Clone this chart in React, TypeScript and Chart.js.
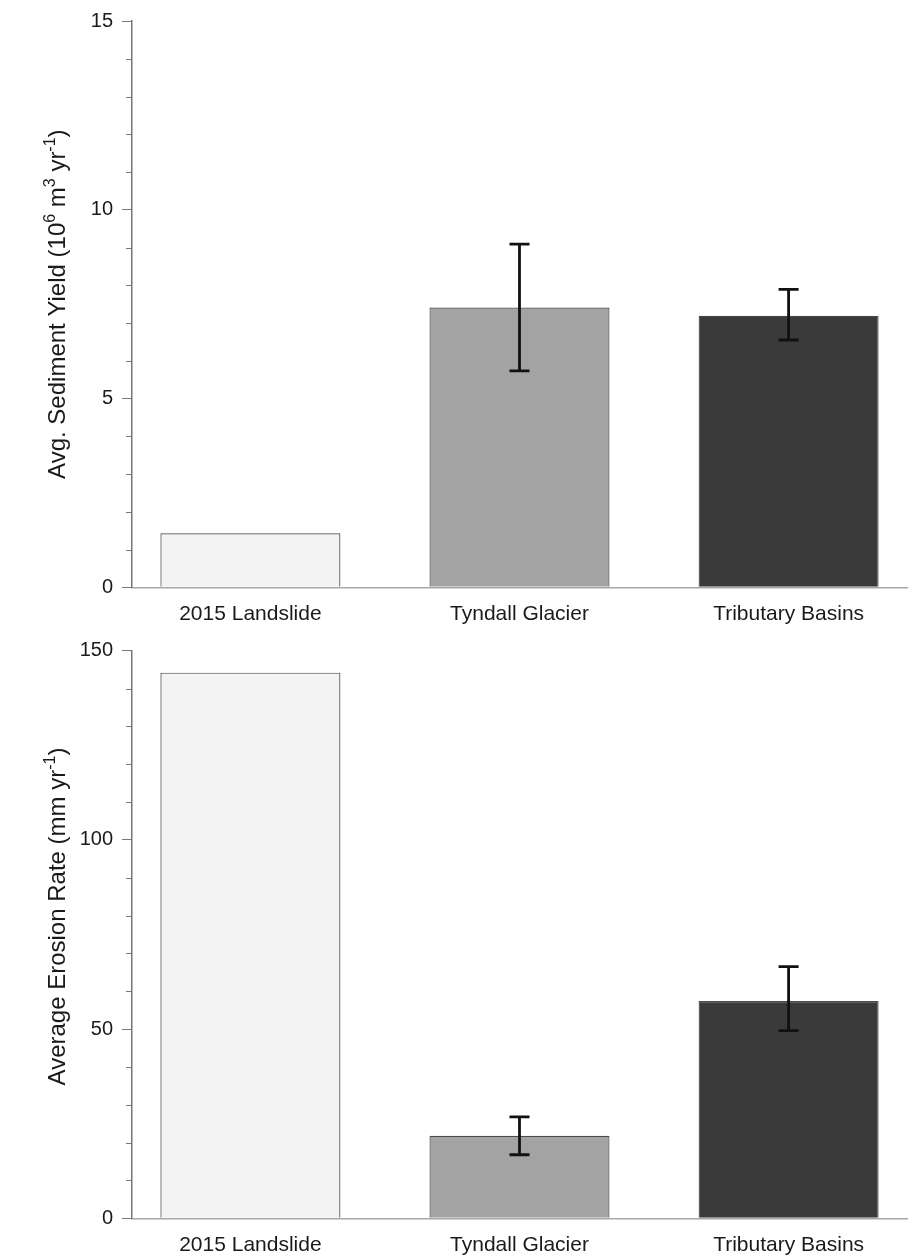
import React, { useEffect, useRef } from 'react';
import { Chart, registerables } from 'chart.js';

Chart.register(...registerables);

// ---------- data ----------
const categories = ['2015 Landslide', 'Tyndall Glacier', 'Tributary Basins'];
const categoryPositions = [0, 1, 2];

const yieldValues = [1.43, 7.41, 7.19];
const yieldErrLow: (number | null)[] = [null, 5.73, 6.55];
const yieldErrHigh: (number | null)[] = [null, 9.09, 7.89];

const erosionValues = [144.2, 21.8, 57.4];
const erosionErrLow: (number | null)[] = [null, 16.8, 49.6];
const erosionErrHigh: (number | null)[] = [null, 26.8, 66.5];

const barColors = ['#f3f3f3', '#a3a3a3', '#3a3a3a'];

// title pieces: [text, isSuperscript]
const yieldTitle: [string, boolean][] = [
  ['Avg. Sediment Yield (10', false],
  ['6', true],
  [' m', false],
  ['3', true],
  [' yr', false],
  ['-1', true],
  [')', false],
];
const erosionTitle: [string, boolean][] = [
  ['Average Erosion Rate (mm yr', false],
  ['-1', true],
  [')', false],
];

const FONT = '"Liberation Sans", Arial, Helvetica, sans-serif';

type PanelProps = {
  values: number[];
  errLow: (number | null)[];
  errHigh: (number | null)[];
  yMax: number;
  yStep: number;
  yMajor: number;
  title: [string, boolean][];
  titleSize: number;
  titleX: number;
  titleShift: number;
  top: number;
  padTop: number;
  xAxisHeight: number;
};

const W = 912;
const H = 628;

function Panel(p: PanelProps) {
  const ref = useRef<HTMLCanvasElement | null>(null);
  useEffect(() => {
    if (!ref.current) return;
    const errorBars = {
      id: 'errorBars',
      afterDatasetsDraw(chart: any) {
        const meta = chart.getDatasetMeta(0);
        const ys = chart.scales.y;
        const ctx = chart.ctx;
        ctx.save();
        ctx.strokeStyle = '#111';
        ctx.lineWidth = 2.8;
        meta.data.forEach((bar: any, i: number) => {
          const lo = p.errLow[i];
          const hi = p.errHigh[i];
          if (lo == null || hi == null) return;
          const x = bar.x;
          const y1 = ys.getPixelForValue(hi);
          const y2 = ys.getPixelForValue(lo);
          ctx.beginPath();
          ctx.moveTo(x, y1);
          ctx.lineTo(x, y2);
          ctx.moveTo(x - 10, y1);
          ctx.lineTo(x + 10, y1);
          ctx.moveTo(x - 10, y2);
          ctx.lineTo(x + 10, y2);
          ctx.stroke();
        });
        ctx.restore();
      },
    };
    const minorTicks = {
      id: 'minorTicks',
      afterDraw(chart: any) {
        const ys = chart.scales.y;
        const ctx = chart.ctx;
        const x0 = chart.chartArea.left;
        ctx.save();
        ctx.strokeStyle = '#777';
        ctx.lineWidth = 1;
        ys.ticks.forEach((t: any) => {
          if (Math.round(t.value) % p.yMajor === 0) return;
          const y = Math.round(ys.getPixelForValue(t.value)) + 0.5;
          ctx.beginPath();
          ctx.moveTo(x0 - 6, y);
          ctx.lineTo(x0, y);
          ctx.stroke();
        });
        ctx.restore();
      },
    };
    const richTitle = {
      id: 'richTitle',
      afterDraw(chart: any) {
        const ctx = chart.ctx;
        const area = chart.chartArea;
        const main = `${p.titleSize}px ${FONT}`;
        const supSize = Math.round(p.titleSize * 0.65);
        const sup = `${supSize}px ${FONT}`;
        ctx.save();
        let total = 0;
        const widths = p.title.map(([t, s]) => {
          ctx.font = s ? sup : main;
          const w = ctx.measureText(t).width;
          total += w;
          return w;
        });
        const cy = (area.top + area.bottom) / 2 + p.titleShift;
        ctx.translate(p.titleX, cy);
        ctx.rotate(-Math.PI / 2);
        ctx.fillStyle = '#1a1a1a';
        ctx.textBaseline = 'alphabetic';
        ctx.textAlign = 'left';
        let x = -total / 2;
        const baseline = p.titleSize * 0.36;
        p.title.forEach(([t, s], i) => {
          ctx.font = s ? sup : main;
          ctx.fillText(t, x, s ? baseline - p.titleSize * 0.42 : baseline);
          x += widths[i];
        });
        ctx.restore();
      },
    };
    const chart = new Chart(ref.current, {
      type: 'bar',
      data: {
        datasets: [
          {
            data: categoryPositions.map((x, i) => ({ x, y: p.values[i] })),
            backgroundColor: barColors,
            borderColor: '#4a4a4a',
            borderWidth: 1.2,
            barPercentage: 0.669,
            categoryPercentage: 1,
          } as any,
        ],
      },
      options: {
        animation: false,
        responsive: false,
        devicePixelRatio: 1,
        layout: { padding: { top: p.padTop, right: 5, left: 0, bottom: 0 } },
        plugins: { legend: { display: false }, tooltip: { enabled: false } },
        scales: {
          x: {
            type: 'linear',
            min: -0.44,
            max: 2.44,
            offset: false,
            afterBuildTicks: (s: any) => {
              s.ticks = categoryPositions.map((v) => ({ value: v }));
            },
            afterFit: (s: any) => {
              s.height = p.xAxisHeight;
            },
            ticks: {
              autoSkip: false,
              maxRotation: 0,
              padding: 14,
              color: '#1a1a1a',
              font: { family: FONT, size: 21 },
              callback: (v: any) => categories[Math.round(Number(v))] ?? '',
            },
            grid: { display: true, drawOnChartArea: false, drawTicks: false },
            border: { display: true, color: '#a8a8a8', width: 1.5 },
          },
          y: {
            min: 0,
            max: p.yMax,
            afterFit: (s: any) => {
              s.width = 132;
            },
            ticks: {
              stepSize: p.yStep,
              autoSkip: false,
              padding: 9,
              color: '#1a1a1a',
              font: { family: FONT, size: 20 },
              callback: (v: any) => (Math.round(Number(v)) % p.yMajor === 0 ? String(v) : ''),
            },
            grid: {
              drawOnChartArea: false,
              tickLength: 10,
              tickColor: (ctx: any) =>
                ctx.tick && Math.round(ctx.tick.value) % p.yMajor === 0 ? '#777' : 'rgba(0,0,0,0)',
            },
            border: { display: true, color: '#777', width: 1.5 },
          },
        },
      },
      plugins: [errorBars, minorTicks, richTitle],
    });
    return () => chart.destroy();
  }, []);
  return (
    <div style={{ position: 'absolute', left: 0, top: p.top, width: W, height: H }}>
      <canvas ref={ref} width={W} height={H} style={{ width: W, height: H, display: 'block' }} />
    </div>
  );
}

export default function App() {
  return (
    <div style={{ position: 'absolute', left: 0, top: 0, width: 912, height: 1256, background: '#fff' }}>
      <Panel
        values={yieldValues}
        errLow={yieldErrLow}
        errHigh={yieldErrHigh}
        yMax={15}
        yStep={1}
        yMajor={5}
        title={yieldTitle}
        titleSize={24}
        titleX={56}
        titleShift={0}
        top={0}
        padTop={21}
        xAxisHeight={40.7}
      />
      <Panel
        values={erosionValues}
        errLow={erosionErrLow}
        errHigh={erosionErrHigh}
        yMax={150}
        yStep={10}
        yMajor={50}
        title={erosionTitle}
        titleSize={24}
        titleX={56}
        titleShift={-18}
        top={628}
        padTop={22.7}
        xAxisHeight={37.7}
      />
    </div>
  );
}
